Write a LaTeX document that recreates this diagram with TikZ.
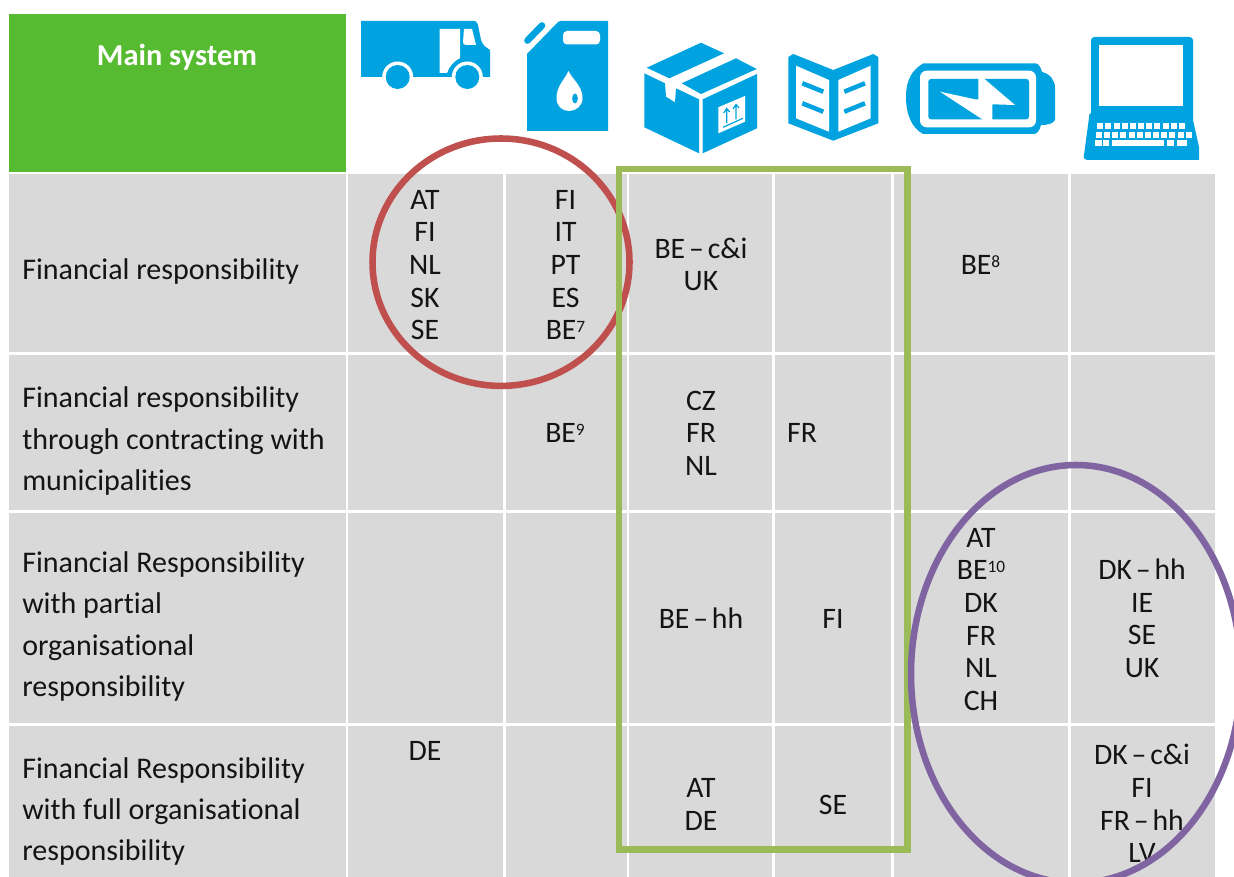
\documentclass[tikz,border=0pt]{standalone}
\usepackage{fontspec}
\setmainfont[Ligatures=CommonOff]{Carlito}
\definecolor{iconblue}{HTML}{00A3E0}
\definecolor{headgreen}{HTML}{57BB31}
\definecolor{cellgray}{HTML}{D9D9D9}
\definecolor{ringred}{HTML}{C0504D}
\definecolor{ringgreen}{HTML}{9BBB59}
\definecolor{ringpurple}{HTML}{8064A2}
\newcommand\cl[1]{\rule[-5.2pt]{0pt}{24.5pt}#1}
\newcommand\sh[1]{\raisebox{5.5pt}{\fontsize{13}{13}\selectfont #1}}
\newcommand\dsh{\hspace{.13em}–\hspace{.13em}}
\tikzset{
  x=0.75pt,y=-0.75pt,
  celltext/.style={inner sep=0pt,align=center,font=\fontsize{22.3}{24.5}\selectfont,text=black!92},
  rowtext/.style={inner sep=0pt,anchor=west,align=left,font=\fontsize{22.5}{30.8}\selectfont,text=black!92},
  gridline/.style={white,line width=2pt},
  ring/.style={line width=4.9pt},
  ico/.style={fill=iconblue,draw=none},
  icw/.style={fill=white,draw=none},
}
\begin{document}
\begin{tikzpicture}
\useasboundingbox (0,0) rectangle (1234,877);
\begin{scope}
\clip (0,0) rectangle (1234,877);
% header and table
\fill[headgreen] (8.5,14) rectangle (346,172.5);
\node[inner sep=0pt,text=white,font=\fontsize{22.8}{24}\selectfont\bfseries] (head) at (177,57.5) {Main system};
\fill[cellgray] (9,174) rectangle (1215,877);
\foreach \gx in {347,504.5,628,773.8,892.8,1069.8}
  \draw[gridline] (\gx,174) -- (\gx,877);
\foreach \gy in {353.5,511.2,724.5}
  \draw[gridline] (9,\gy) -- (1215,\gy);
% truck
\fill[ico] (361,77) -- (361,21) -- (474,21) .. controls (477,21) and (478,24) .. (479,30) -- (481,40) .. controls (483,46) and (486,47) .. (490,50) -- (490,77) -- (361,77) -- cycle;
\fill[icw] (439.5,29) -- (460,29) -- (460,58) .. controls (453,62) and (449,67) .. (447,73) -- (439.5,73) -- cycle;
\fill[icw] (464,29) -- (472,29) -- (476,45) -- (466,45) .. controls (464,45) and (463,44) .. (463,42) -- cycle;
\fill[icw] (397.7,77) circle[radius=15.5];
\fill[icw] (467.3,77) circle[radius=15.5];
\fill[icw] (380,78) rectangle (415,92);
\fill[icw] (450,78) rectangle (484,92);
\begin{scope}
\clip (380,60) rectangle (484,88.7);
\fill[ico] (397.7,77) circle[radius=12];
\fill[ico] (467.3,77) circle[radius=12];
\end{scope}
% canister
\fill[ico] (527,131) -- (527,54) -- (557,23) .. controls (558,22) and (559,21) .. (561,21) -- (608,21) -- (608,131) -- cycle;
\draw[iconblue,line width=5pt,line cap=round] (527.5,40.5) -- (542,25.5);
\fill[icw,rounded corners=3pt] (563,31) rectangle (600,44.5);
\fill[icw] (568.5,71) .. controls (565,79) and (556.5,86) .. (556.5,98) .. controls (556.5,106) and (562,111) .. (569,111) .. controls (576,111) and (582.5,106) .. (582.5,98) .. controls (582.5,86) and (572,79) .. (568.5,71) -- cycle;
\fill[ico] (575,98.5) ellipse[x radius=2.8,y radius=5];
% box
\fill[ico] (646.7,67.7) -- (701,42.7) -- (724,53.3) -- (669.3,78.3) -- cycle;
\fill[ico] (681.7,83.3) -- (736,58.3) -- (756.7,69) -- (701,94) -- cycle;
\fill[ico] (644.3,73.3) -- (665,83.3) -- (666,96.7) -- (675,102.3) -- (676,88.3) -- (699,99.3) -- (699,153.3) -- (644.3,127.3) -- cycle;
\fill[ico] (702.7,99.3) -- (757,74) -- (757,128.3) -- (702.7,153.3) -- cycle;
\fill[icw] (718.3,107.3) -- (745,96) -- (745,121.7) -- (718.3,133.3) -- cycle;
\draw[iconblue,line width=0.9pt] (723,127.3) -- (743,118.3);
\draw[iconblue,line width=0.9pt] (726.7,123.3) -- (726.7,110) (723.7,113) -- (726.7,108.5) -- (729.7,112);
\draw[iconblue,line width=0.9pt] (736,119.3) -- (736,106) (733,109) -- (736,104.5) -- (739,108);
% book
\fill[ico] (788.3,57) -- (793.3,54) -- (833.3,70) -- (873.3,54) -- (878.3,57) -- (878.3,123.3) -- (833.3,140.7) -- (788.3,123.3) -- cycle;
\fill[icw] (796,65.7) -- (829,80) -- (829,131.7) -- (796,118.3) -- cycle;
\fill[icw] (838.3,80) -- (870.7,65.7) -- (870.7,118.3) -- (838.3,131.7) -- cycle;
\draw[iconblue,line width=3.4pt] (802.3,83.3) -- (823.3,91.7) (802.3,103.3) -- (823.3,111.7);
\draw[iconblue,line width=3.4pt] (844.3,91.7) -- (865,83.3) (844.3,111.7) -- (865,103.3);
% battery
\fill[ico] (906,97) .. controls (906,80) and (912,70) .. (923,63.5) -- (1036,63.5) .. controls (1039,64) and (1041,68) .. (1042,72) .. controls (1050,74) and (1055,80) .. (1055,88) -- (1055,120) .. controls (1053,124) and (1047,125) .. (1041,125) .. controls (1040,130) and (1037,134) .. (1034,134) -- (923,134) .. controls (912,128) and (906,115) .. (906,97) -- cycle;
\fill[icw,rounded corners=5pt] (920,70.7) rectangle (1036,127.3);
\fill[ico,rounded corners=2pt] (928.3,79) rectangle (1029,119.3);
\fill[icw] (940,91.7) -- (975,99.3) -- (978.3,99.3) -- (978.3,78) -- (983.3,78) -- (1015,105) -- (992.3,104.3) -- (992.3,120) -- (983.3,120) -- cycle;
% laptop
\fill[ico] (1091,40) .. controls (1091,38) and (1093,37) .. (1095,37) -- (1189,37) .. controls (1191,37) and (1193,38) .. (1193,40) -- (1193,120) -- (1199,147) -- (1199,160) -- (1087,160) .. controls (1085,160) and (1083,158) .. (1084,155) -- (1089.5,114) -- (1091,113) -- cycle;
\fill[icw] (1099.3,45) rectangle (1183.3,105.7);
\foreach \k in {0,...,10} \fill[icw] ({1097.3+\k*8.15},123.3) rectangle ++(6,6);
\foreach \k in {0,...,11} \fill[icw] ({1096+\k*8.15},131.7) rectangle ++(6,6);
\fill[icw] (1095,140) rectangle ++(6.5,6);
\fill[icw] (1103.3,140) rectangle ++(6,6);
\fill[icw] (1111.7,140) rectangle ++(52.7,6);
\fill[icw] (1166.7,140) rectangle ++(7.6,6);
\fill[icw] (1176.7,140) rectangle ++(10.6,6);
% row labels
\node[rowtext] (r1) at (22,272) {Financial responsibility};
\node[rowtext] (r2) at (22,441) {Financial responsibility\\through contracting with\\municipalities};
\node[rowtext] (r3) at (22,626.5) {Financial Responsibility\\with partial\\organisational\\responsibility};
\node[rowtext] (r4) at (22,811.5) {Financial Responsibility\\with full organisational\\responsibility};
% cell texts
\node[celltext] (a1) at (425,265) {\cl{AT}\\\cl{FI}\\\cl{NL}\\\cl{SK}\\\cl{SE}};
\node[celltext] (b1) at (565.5,265) {\cl{FI}\\\cl{IT}\\\cl{PT}\\\cl{ES}\\\cl{BE\sh{7}}};
\node[celltext] (c1) at (701,265) {\cl{BE\dsh c\&i}\\\cl{UK}};
\node[celltext] (e1) at (980.5,265) {\cl{BE\sh{8}}};
\node[celltext] (b2) at (565,433) {\cl{BE\sh{9}}};
\node[celltext] (c2) at (701,433.5) {\cl{CZ}\\\cl{FR}\\\cl{NL}};
\node[celltext] (d2) at (802,433) {\cl{FR}};
\node[celltext] (c3) at (701,619) {\cl{BE\dsh hh}};
\node[celltext] (d3) at (833,619) {\cl{FI}};
\node[celltext] (e3) at (981,619.5) {\cl{AT}\\\cl{BE\sh{10}}\\\cl{DK}\\\cl{FR}\\\cl{NL}\\\cl{CH}};
\node[celltext] (f3) at (1142,619) {\cl{DK\dsh hh}\\\cl{IE}\\\cl{SE}\\\cl{UK}};
\node[celltext] (a4) at (425,751) {\cl{DE}};
\node[celltext] (c4) at (701,804.5) {\cl{AT}\\\cl{DE}};
\node[celltext] (d4) at (833,805) {\cl{SE}};
\node[celltext] (f4) at (1142,804.5) {\cl{DK\dsh c\&i}\\\cl{FI}\\\cl{FR\dsh hh}\\\cl{LV}};
% highlight rings
\draw[ring,ringred] (501,262.2) ellipse[x radius=128.5,y radius=123.7];
\draw[ring,ringgreen] (619,169) rectangle (907.5,849.5);
\draw[ring,ringpurple] (1076,674) ellipse[x radius=165,y radius=209];
\end{scope}
\end{tikzpicture}
\end{document}
